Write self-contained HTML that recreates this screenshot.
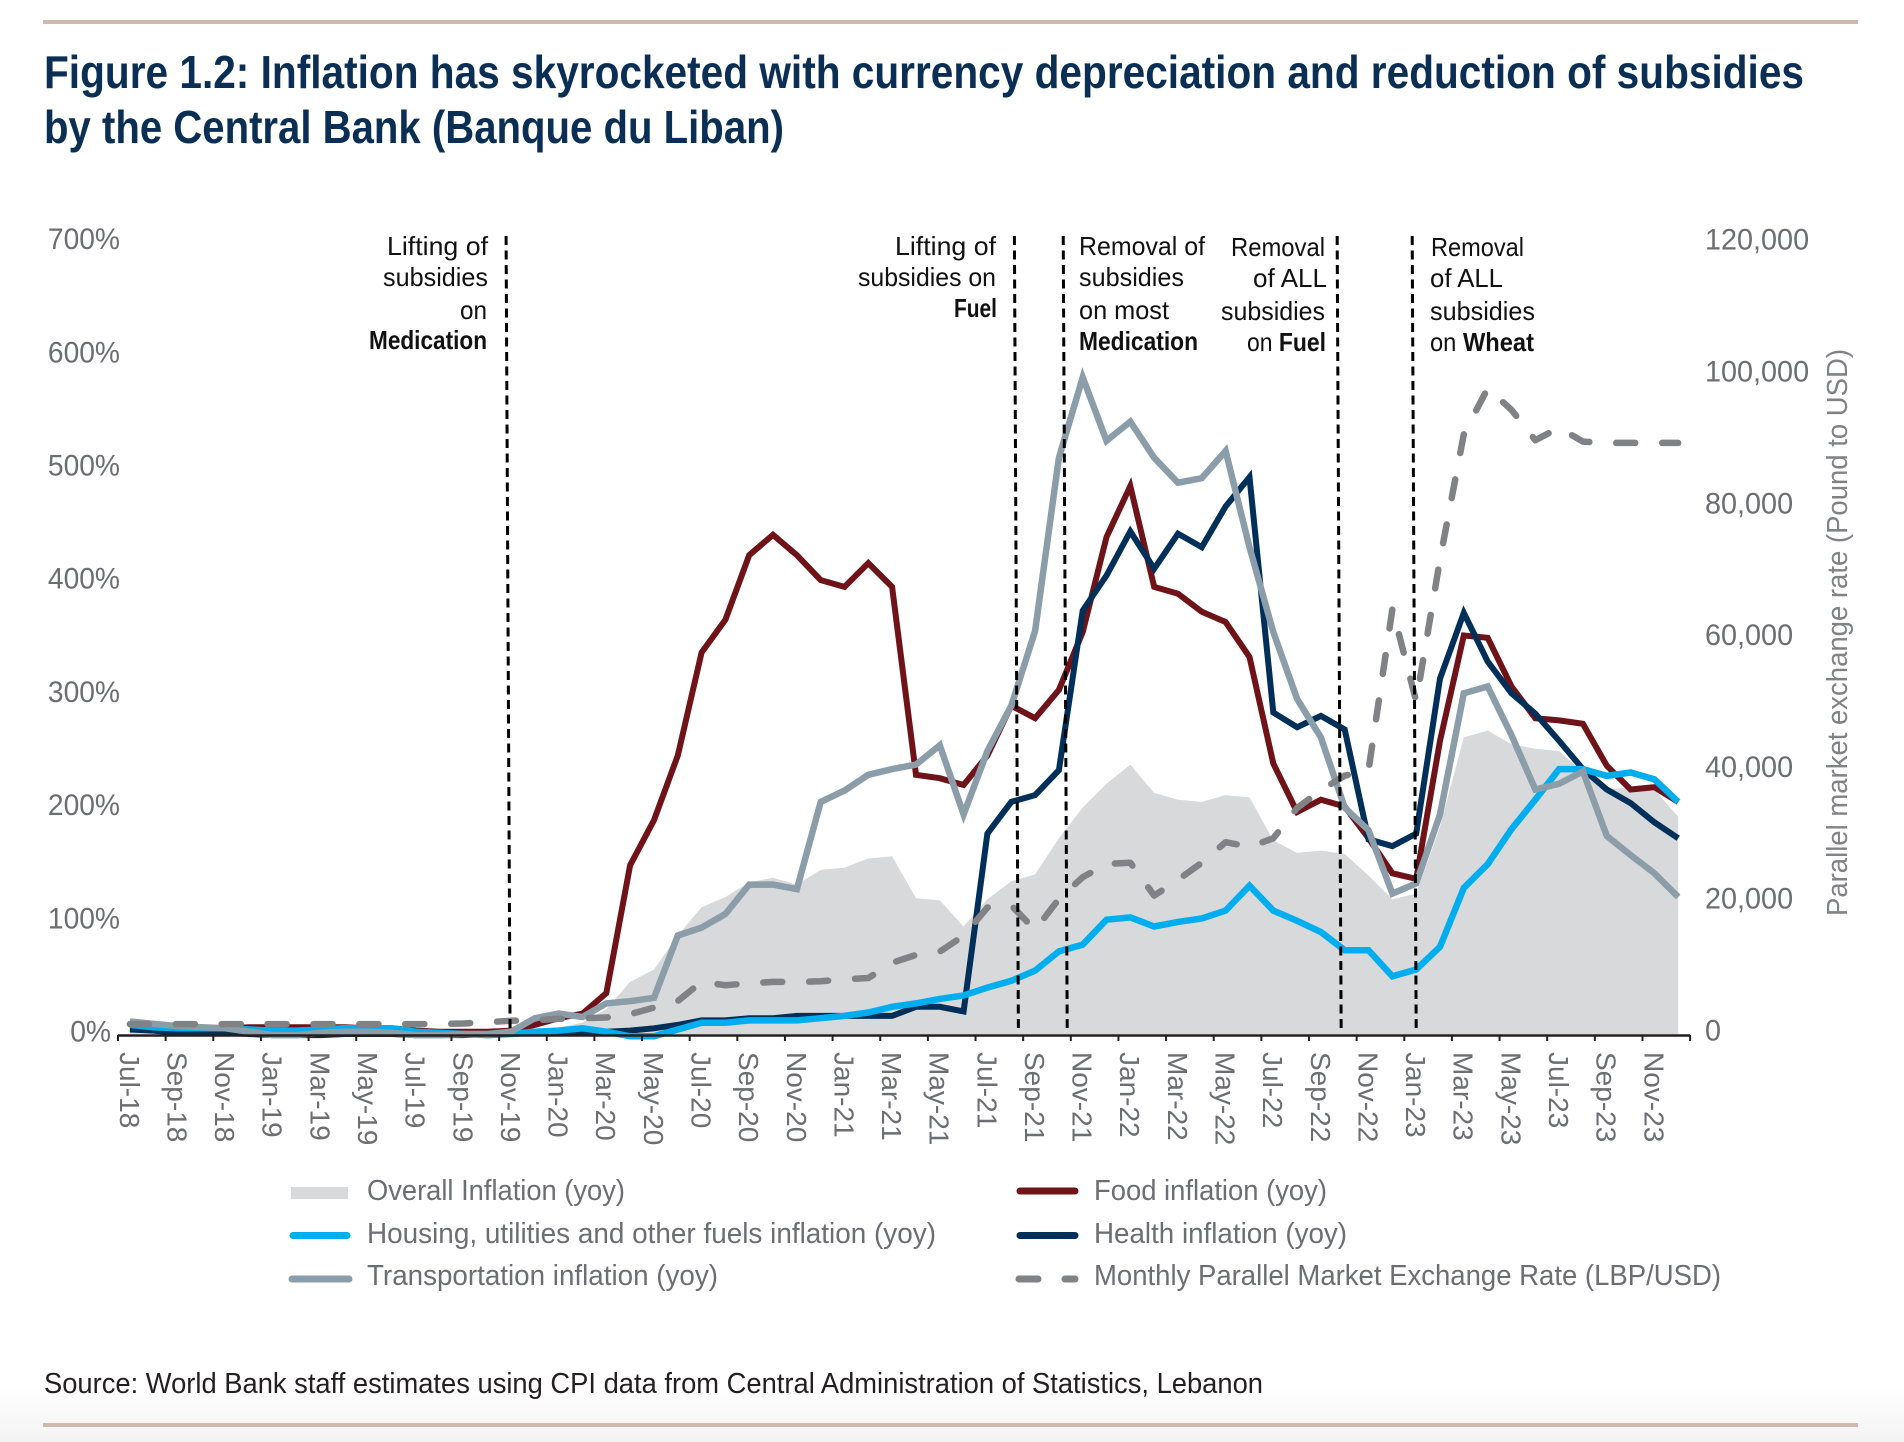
<!DOCTYPE html>
<html lang="en">
<head>
<meta charset="utf-8">
<title>Figure 1.2: Inflation</title>
<style>
html,body{margin:0;padding:0;width:1904px;height:1442px;overflow:hidden;background:linear-gradient(#fff 0,#fff 1385px,#f3f3f3 1442px);}
svg{display:block;position:absolute;left:0;top:0;}
text{font-family:"Liberation Sans",sans-serif;}
.note{font-size:26px;fill:#111;}
.b{font-weight:700;}
.leg{font-size:29px;fill:#6d6e71;}
</style>
</head>
<body>
<svg id="chart" width="1904" height="1442" viewBox="0 0 1904 1442" xmlns="http://www.w3.org/2000/svg">
  <rect x="43" y="20" width="1815" height="4" fill="#cdb9b0"/>
  <rect x="43" y="1423" width="1815" height="4" fill="#cdb9b0"/>
  <text x="44" y="88" font-size="46" font-weight="700" fill="#0b2f54" textLength="1760" lengthAdjust="spacingAndGlyphs">Figure 1.2: Inflation has skyrocketed with currency depreciation and reduction of subsidies</text>
  <text x="44" y="143" font-size="46" font-weight="700" fill="#0b2f54" textLength="740" lengthAdjust="spacingAndGlyphs">by the Central Bank (Banque du Liban)</text>

  <g id="plot"></g>

  <g>
    <text class="note" x="387" y="255" textLength="101" lengthAdjust="spacingAndGlyphs">Lifting of</text>
    <text class="note" x="383" y="286" textLength="105" lengthAdjust="spacingAndGlyphs">subsidies</text>
    <text class="note" x="460" y="319" textLength="27" lengthAdjust="spacingAndGlyphs">on</text>
    <text class="note b" x="369" y="349" textLength="118" lengthAdjust="spacingAndGlyphs">Medication</text>
  </g>
  <g>
    <text class="note" x="895" y="255" textLength="101" lengthAdjust="spacingAndGlyphs">Lifting of</text>
    <text class="note" x="858" y="286" textLength="138" lengthAdjust="spacingAndGlyphs">subsidies on</text>
    <text class="note b" x="954" y="317" textLength="43" lengthAdjust="spacingAndGlyphs">Fuel</text>
  </g>
  <g>
    <text class="note" x="1079" y="255" textLength="126" lengthAdjust="spacingAndGlyphs">Removal of</text>
    <text class="note" x="1079" y="286" textLength="105" lengthAdjust="spacingAndGlyphs">subsidies</text>
    <text class="note" x="1079" y="319" textLength="90" lengthAdjust="spacingAndGlyphs">on most</text>
    <text class="note b" x="1079" y="350" textLength="119" lengthAdjust="spacingAndGlyphs">Medication</text>
  </g>
  <g>
    <text class="note" x="1231" y="256" textLength="94" lengthAdjust="spacingAndGlyphs">Removal</text>
    <text class="note" x="1253" y="287" textLength="74" lengthAdjust="spacingAndGlyphs">of ALL</text>
    <text class="note" x="1221" y="320" textLength="104" lengthAdjust="spacingAndGlyphs">subsidies</text>
    <text class="note" x="1247" y="351" textLength="79" lengthAdjust="spacingAndGlyphs">on <tspan class="b">Fuel</tspan></text>
  </g>
  <g>
    <text class="note" x="1431" y="256" textLength="93" lengthAdjust="spacingAndGlyphs">Removal</text>
    <text class="note" x="1430" y="287" textLength="73" lengthAdjust="spacingAndGlyphs">of ALL</text>
    <text class="note" x="1430" y="320" textLength="105" lengthAdjust="spacingAndGlyphs">subsidies</text>
    <text class="note" x="1430" y="351" textLength="104" lengthAdjust="spacingAndGlyphs">on <tspan class="b">Wheat</tspan></text>
  </g>

  <text transform="translate(1847,916) rotate(-90)" font-size="29" fill="#808285" textLength="567" lengthAdjust="spacingAndGlyphs">Parallel market exchange rate (Pound to USD)</text>

  <g>
    <g>
      <rect x="291" y="1187" width="57" height="12" fill="#d7d9db"/>
      <text class="leg" x="367" y="1200" textLength="258" lengthAdjust="spacingAndGlyphs">Overall Inflation (yoy)</text>
    </g>
    <g>
      <line x1="293" y1="1235.500" x2="347" y2="1235.500" stroke="#00aeef" stroke-width="7" stroke-linecap="round"/>
      <text class="leg" x="367" y="1243" textLength="569" lengthAdjust="spacingAndGlyphs">Housing, utilities and other fuels inflation (yoy)</text>
    </g>
    <g>
      <line x1="292" y1="1279" x2="349" y2="1279" stroke="#8c9daa" stroke-width="7" stroke-linecap="round"/>
      <text class="leg" x="367" y="1285" textLength="351" lengthAdjust="spacingAndGlyphs">Transportation inflation (yoy)</text>
    </g>
    <g>
      <line x1="1020" y1="1191" x2="1075" y2="1191" stroke="#6f1319" stroke-width="7" stroke-linecap="round"/>
      <text class="leg" x="1094" y="1200" textLength="233" lengthAdjust="spacingAndGlyphs">Food inflation (yoy)</text>
    </g>
    <g>
      <line x1="1020" y1="1235.500" x2="1075" y2="1235.500" stroke="#00305a" stroke-width="7" stroke-linecap="round"/>
      <text class="leg" x="1094" y="1243" textLength="253" lengthAdjust="spacingAndGlyphs">Health inflation (yoy)</text>
    </g>
    <g>
      <line x1="1019" y1="1279" x2="1038" y2="1279" stroke="#808285" stroke-width="7" stroke-linecap="round"/>
      <line x1="1065" y1="1279" x2="1075" y2="1279" stroke="#808285" stroke-width="7" stroke-linecap="round"/>
      <text class="leg" x="1094" y="1285" textLength="627" lengthAdjust="spacingAndGlyphs">Monthly Parallel Market Exchange Rate (LBP/USD)</text>
    </g>
  </g>

  <text x="44" y="1393" font-size="29" fill="#231f20" textLength="1219" lengthAdjust="spacingAndGlyphs">Source: World Bank staff estimates using CPI data from Central Administration of Statistics, Lebanon</text>
</svg>

<script>
var months = ['Jul-18','Aug-18','Sep-18','Oct-18','Nov-18','Dec-18','Jan-19','Feb-19','Mar-19','Apr-19','May-19','Jun-19','Jul-19','Aug-19','Sep-19','Oct-19','Nov-19','Dec-19','Jan-20','Feb-20','Mar-20','Apr-20','May-20','Jun-20','Jul-20','Aug-20','Sep-20','Oct-20','Nov-20','Dec-20','Jan-21','Feb-21','Mar-21','Apr-21','May-21','Jun-21','Jul-21','Aug-21','Sep-21','Oct-21','Nov-21','Dec-21','Jan-22','Feb-22','Mar-22','Apr-22','May-22','Jun-22','Jul-22','Aug-22','Sep-22','Oct-22','Nov-22','Dec-22','Jan-23','Feb-23','Mar-23','Apr-23','May-23','Jun-23','Jul-23','Aug-23','Sep-23','Oct-23','Nov-23','Dec-23'];
var overall = [5,5,4,4,4,3,2,2,2,2,2,1,1,1,1,1,2,3,6,10,22,46,57,87,112,121,134,138,132,145,147,155,157,120,118,95,119,135,141,173,200,221,238,213,207,205,211,209,171,160,162,159,140,119,124,183,262,268,256,252,250,231,216,218,216,192];
var food = [5,5,5,5,5,6,6,6,6,6,5,5,3,2,2,2,3,8,14,18,36,149,189,246,337,366,423,441,423,401,395,416,395,229,226,220,246,290,279,304,355,439,484,395,389,373,364,333,239,196,207,201,173,142,137,259,352,350,307,279,277,274,237,216,218,205];
var health = [4,3,1,1,1,0,-1,-1,-1,0,0,0,-1,-1,-1,0,0,1,1,1,2,3,5,8,12,12,14,14,16,16,16,16,16,24,24,20,177,205,211,233,374,405,444,411,442,430,466,492,284,271,281,269,172,166,177,314,372,329,301,283,259,234,216,204,187,173];
var housing = [8,6,5,5,5,4,3,3,4,5,5,5,2,1,0,-1,0,2,3,5,2,-2,-2,4,10,10,12,12,12,14,16,19,24,27,31,34,41,47,56,73,79,101,103,95,99,102,109,131,109,100,90,74,74,51,57,77,129,150,181,207,234,234,228,231,225,205];
var transport = [11,9,7,6,5,2,-1,-1,1,2,2,1,-1,-1,0,0,2,14,18,15,27,29,32,87,94,106,132,132,128,205,215,229,234,238,255,194,250,290,356,509,580,524,541,509,487,491,515,430,355,296,262,200,180,124,133,194,301,307,264,216,221,232,175,158,142,121];
var exchangeRate = [1500,1500,1500,1500,1500,1500,1500,1500,1500,1500,1500,1500,1500,1500,1600,1800,2000,2100,2300,2400,2500,3000,4000,5000,7900,7400,7700,7900,7900,8000,8300,8500,10800,12000,12500,14900,19200,19500,15800,20500,23800,25800,26000,21000,23400,26000,29100,28400,29700,34300,37000,39200,40000,64500,50500,72000,91000,98000,94700,90100,92000,89900,89700,89700,89700,89700];
var leftTicks = [0,100,200,300,400,500,600,700];
var rightTicks = [0,20000,40000,60000,80000,100000,120000];
var eventMonthIndex = [15.96,37.3,39.35,50.85,54];

var NS = 'http://www.w3.org/2000/svg';
var plot = document.getElementById('plot');
var X0 = 118, STEP = 23.82, Y0 = 1034;
function xBand(i){ return X0 + i * STEP; }
function xPos(i){ return xBand(i + 0.5); }
function yLeft(v){ return Y0 - v * 1.132; }
function yRight(v){ return Y0 - v * 131.8 / 20000; }
function el(tag, attrs){
  var e = document.createElementNS(NS, tag);
  for (var k in attrs) e.setAttribute(k, attrs[k]);
  return e;
}
function linePath(values, yFn){
  return values.map(function(v, i){ return (i ? 'L' : 'M') + xPos(i).toFixed(1) + ' ' + yFn(v).toFixed(1); }).join('');
}
function condense(node, factor){
  var w = node.getComputedTextLength();
  node.setAttribute('textLength', (w * factor).toFixed(1));
  node.setAttribute('lengthAdjust', 'spacingAndGlyphs');
}

var area = el('path', {d: linePath(overall, yLeft) + 'L' + xPos(overall.length - 1).toFixed(1) + ' ' + Y0 + 'L' + xPos(0).toFixed(1) + ' ' + Y0 + 'Z', fill: '#d7d9db'});


plot.appendChild(area);

var foodLine = el('path', {d: linePath(food, yLeft), fill: 'none', stroke: '#6f1319', 'stroke-width': 6, 'stroke-linejoin': 'miter'});


plot.appendChild(foodLine);

var healthLine = el('path', {d: linePath(health, yLeft), fill: 'none', stroke: '#00305a', 'stroke-width': 6, 'stroke-linejoin': 'miter'});


plot.appendChild(healthLine);

var housingLine = el('path', {d: linePath(housing, yLeft), fill: 'none', stroke: '#00aeef', 'stroke-width': 6.5, 'stroke-linejoin': 'miter'});


plot.appendChild(housingLine);

var transportLine = el('path', {d: linePath(transport, yLeft), fill: 'none', stroke: '#8c9daa', 'stroke-width': 6.5, 'stroke-linejoin': 'miter'});


plot.appendChild(transportLine);

var exchangeLine = el('path', {d: linePath(exchangeRate, yRight), fill: 'none', stroke: '#808285', 'stroke-width': 6.5, 'stroke-linecap': 'round', 'stroke-linejoin': 'round', 'stroke-dasharray': '19 26.9'});


plot.appendChild(exchangeLine);

eventMonthIndex.forEach(function(pos){
  var xb = xPos(pos);
  var v = el('line', {x1: xb - 4, y1: 236, x2: xb, y2: 1032, stroke: '#000', 'stroke-width': 3, 'stroke-dasharray': '9 5.5'});
  
  
  plot.appendChild(v);
});

var axis = el('line', {x1: X0, y1: 1035.5, x2: xBand(months.length), y2: 1035.5, stroke: '#231f20', 'stroke-width': 2.6});


plot.appendChild(axis);

for (var t = 0; t <= months.length; t += 2) {
  var tick = el('line', {x1: xBand(t), y1: 1035, x2: xBand(t), y2: 1041, stroke: '#231f20', 'stroke-width': 2});
  
  
  plot.appendChild(tick);
  if (t < months.length) {
    var lab = el('text', {transform: 'translate(' + xPos(t).toFixed(1) + ',1052) rotate(90)', dy: '0.36em', 'font-size': 28, fill: '#6d6e71'});
    lab.textContent = months[t];
    
    
    plot.appendChild(lab);
  }
}

leftTicks.forEach(function(v){
  var lab = el('text', {x: v === 0 ? 111 : 120, y: yLeft(v) + 7.5, 'text-anchor': 'end', 'font-size': 30, fill: '#6d6e71'});
  lab.textContent = v + '%';
  
  
  plot.appendChild(lab);
  condense(lab, 0.94);
});

rightTicks.forEach(function(v){
  var lab = el('text', {x: 1705, y: yRight(v) + 6.5, 'font-size': 30, fill: '#6d6e71'});
  lab.textContent = v.toLocaleString('en-US');
  
  
  plot.appendChild(lab);
  condense(lab, 0.96);
});
</script>
</body>
</html>
